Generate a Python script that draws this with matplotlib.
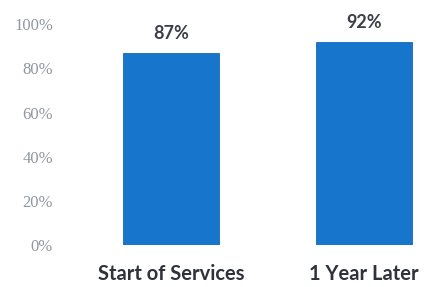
import matplotlib.pyplot as plt

# data
categories = ['Start of Services', '1 Year Later']
values = [87, 92]
labels = ['87%', '92%']
yticks = [0, 20, 40, 60, 80, 100]
yticklabels = ['0%', '20%', '40%', '60%', '80%', '100%']

W, H = 424, 287
fig = plt.figure(figsize=(W / 100, H / 100), dpi=100)
# axes placed in pixel terms
ax = fig.add_axes([60 / W, 42 / H, (W - 60) / W, 220.7 / H])

x = range(len(categories))
ax.bar(x, values, width=0.5, color='#1776cc', edgecolor='#1468b8', linewidth=0.6)
ax.set_xlim(-0.575, 1.311)
ax.set_ylim(0, 100)

for i, v in enumerate(values):
    ax.text(i, v + 5, labels[i], ha='center', va='bottom', fontsize=13,
            fontweight='bold', color='#3a3f48', family='Lato')

ax.set_yticks(yticks)
ax.set_yticklabels(yticklabels, family='Liberation Serif', fontsize=12, color='#9096a0')
ax.set_xticks(list(x))
ax.set_xticklabels(categories, family='Lato', fontsize=14.5, fontweight='bold', color='#2e333b')
ax.tick_params(axis='y', length=0, pad=5)
ax.tick_params(axis='x', length=0, pad=14)
for s in ax.spines.values():
    s.set_visible(False)

fig.savefig('out.png', dpi=100)
